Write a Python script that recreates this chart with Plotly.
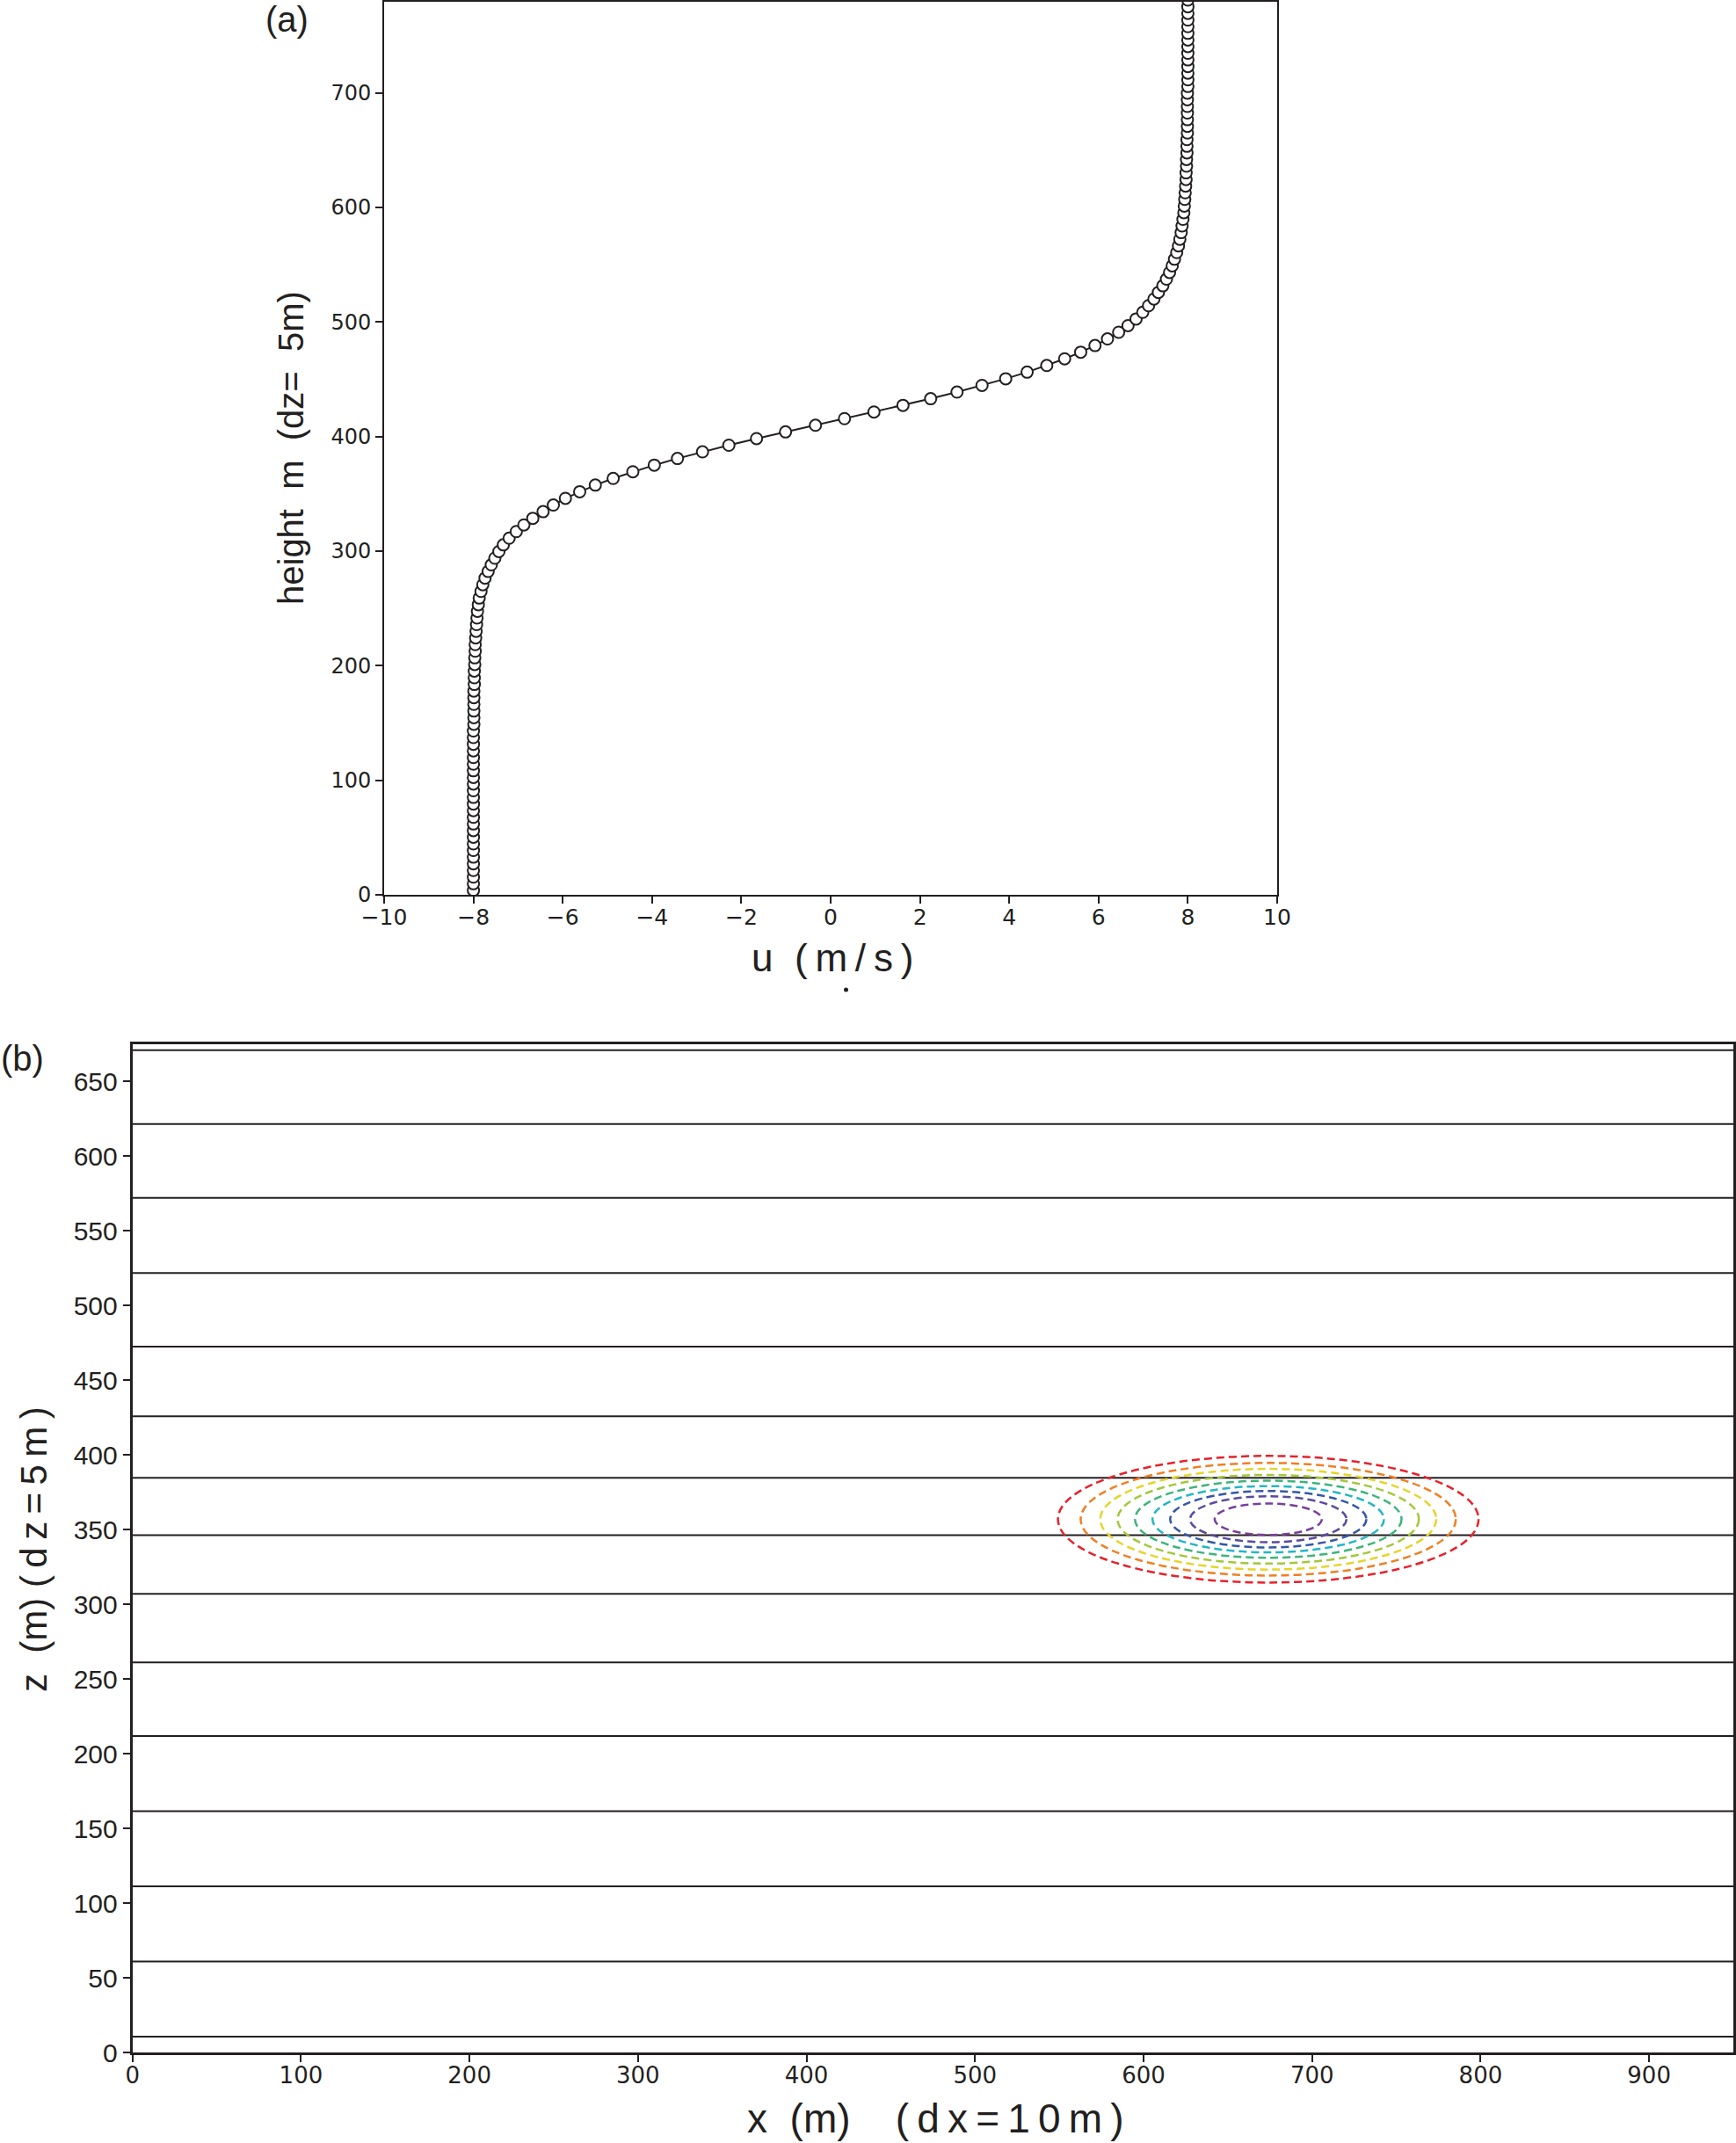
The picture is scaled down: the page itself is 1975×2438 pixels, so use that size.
import plotly.graph_objects as go

# ---------------- data: panel (a) ----------------
HEIGHT_START = 3.9      # m, lowest plotted level
HEIGHT_STEP = 5.8       # m, spacing of the plotted levels
U_WIND = [
    -8.00, -8.00, -8.00, -8.00, -8.00, -8.00, -8.00, -8.00, -8.00, -8.00,
    -8.00, -8.00, -8.00, -8.00, -8.00, -8.00, -8.00, -8.00, -8.00, -8.00,
    -8.00, -8.00, -8.00, -8.00, -8.00, -7.99, -7.99, -7.99, -7.99, -7.99,
    -7.99, -7.98, -7.98, -7.98, -7.97, -7.97, -7.96, -7.96, -7.95, -7.94,
    -7.93, -7.92, -7.91, -7.89, -7.87, -7.83, -7.79, -7.74, -7.67, -7.60,
    -7.52, -7.43, -7.33, -7.20, -7.04, -6.87, -6.67, -6.44, -6.21, -5.94,
    -5.62, -5.27, -4.87, -4.43, -3.95, -3.43, -2.87, -2.28, -1.66, -1.01,
    -0.34, 0.31, 0.97, 1.62, 2.24, 2.83, 3.39, 3.92, 4.40, 4.84,
    5.24, 5.60, 5.92, 6.20, 6.45, 6.66, 6.84, 6.99, 7.12, 7.24,
    7.34, 7.44, 7.52, 7.59, 7.65, 7.70, 7.75, 7.79, 7.82, 7.85,
    7.87, 7.89, 7.91, 7.92, 7.93, 7.94, 7.95, 7.96, 7.96, 7.97,
    7.97, 7.98, 7.98, 7.98, 7.99, 7.99, 7.99, 7.99, 7.99, 7.99,
    7.99, 8.00, 8.00, 8.00, 8.00, 8.00, 8.00, 8.00, 8.00, 8.00,
    8.00, 8.00, 8.00, 8.00, 8.00,
]
HEIGHTS = [HEIGHT_START + HEIGHT_STEP * i for i in range(len(U_WIND))]
U_TICKS = [-10, -8, -6, -4, -2, 0, 2, 4, 6, 8, 10]
H_TICKS = [0, 100, 200, 300, 400, 500, 600, 700]

# ---------------- data: panel (b) ----------------
STREAM_LEVELS = [10.6, 60.9, 111.2, 161.5, 211.8, 261.2, 307.0, 346.3,
                 384.7, 425.9, 472.5, 521.9, 572.2, 621.6, 671.0]
DOMAIN_X = [0, 950]
CONTOUR_CENTER_X = 674
CONTOUR_CENTER_Z = 357
CONTOUR_HALF_WIDTH = [124.8, 111.3, 99.7, 89.4, 79.1, 68.7, 58.2, 46.4, 31.8]
CONTOUR_HALF_HEIGHT = [42.4, 37.7, 33.7, 29.7, 25.8, 22.2, 18.9, 15.4, 10.5]
CONTOUR_COLORS = ["#e8212b", "#f07f23", "#e5d52b", "#a2c83b", "#3cb57b",
                  "#23b6c6", "#3557a8", "#5a4a9f", "#7a3f9a"]
X_TICKS = [0, 100, 200, 300, 400, 500, 600, 700, 800, 900]
Z_TICKS = list(range(0, 651, 50))

W, H = 1975, 2438
INK = "#231f20"
SANS = "Liberation Sans, Arial, sans-serif"
WIDE = "DejaVu Sans, Liberation Sans, sans-serif"
THIN = "\u2009"
NB = "\u00a0"


def spaced(s):
    """Letter-spaced text, mimicking the wide stroke font of the original."""
    return THIN.join(s)


fig = go.Figure()

# panel (a) profile
fig.add_trace(go.Scatter(
    x=U_WIND, y=HEIGHTS, mode="lines+markers",
    line=dict(color=INK, width=2),
    marker=dict(symbol="circle", size=13, color="white",
                line=dict(color=INK, width=2)),
    xaxis="x", yaxis="y", showlegend=False, hoverinfo="skip",
    cliponaxis=True,
))

# panel (b) streamlines
sx, sy = [], []
for lvl in STREAM_LEVELS:
    sx += [DOMAIN_X[0], DOMAIN_X[1], None]
    sy += [lvl, lvl, None]
fig.add_trace(go.Scatter(
    x=sx, y=sy, mode="lines", line=dict(color=INK, width=2),
    xaxis="x2", yaxis="y2", showlegend=False, hoverinfo="skip",
))

shapes = []
for hw, hh, col in zip(CONTOUR_HALF_WIDTH, CONTOUR_HALF_HEIGHT, CONTOUR_COLORS):
    shapes.append(dict(
        type="circle", xref="x2", yref="y2",
        x0=CONTOUR_CENTER_X - hw, x1=CONTOUR_CENTER_X + hw,
        y0=CONTOUR_CENTER_Z - hh, y1=CONTOUR_CENTER_Z + hh,
        line=dict(color=col, width=2.5, dash="9px,5px"),
    ))
# stray dot under the (a) axis title
shapes.append(dict(type="circle", xref="paper", yref="paper",
                   x0=960 / W, x1=965 / W, y0=1 - 1128.5 / H, y1=1 - 1123.5 / H,
                   fillcolor=INK, line=dict(width=0)))


def px_x(v):
    return v / W


def px_y(v):
    return 1 - v / H


axis_common = dict(showgrid=False, zeroline=False, showline=True, mirror=True,
                   linecolor=INK, ticks="outside", tickcolor=INK, ticklen=8,
                   tickwidth=2, automargin=False, fixedrange=True)


def label(text, x, y, size, family=SANS, angle=0):
    return dict(text=text, x=px_x(x), y=px_y(y), xref="paper", yref="paper",
                xanchor="center", yanchor="middle", showarrow=False,
                textangle=angle, font=dict(family=family, size=size, color=INK))


fig.update_layout(
    template="none",
    width=W, height=H, margin=dict(l=0, r=0, t=0, b=0, pad=0),
    paper_bgcolor="white", plot_bgcolor="white", showlegend=False,
    xaxis=dict(domain=[px_x(437), px_x(1453)], range=[-10, 10],
               tickvals=U_TICKS, linewidth=2, ticklabelstandoff=-6,
               tickfont=dict(family=WIDE, size=25, color=INK),
               anchor="y", **axis_common),
    yaxis=dict(domain=[px_y(1018), px_y(1.5)], range=[0, 780],
               tickvals=H_TICKS, linewidth=2,
               tickfont=dict(family=WIDE, size=24, color=INK),
               anchor="x", **axis_common),
    xaxis2=dict(domain=[px_x(150.7), px_x(1972)], range=[0, 950],
                tickvals=X_TICKS, linewidth=3, ticklabelstandoff=-7,
                tickfont=dict(family=WIDE, size=26, color=INK),
                anchor="y2", **axis_common),
    yaxis2=dict(domain=[px_y(2335), px_y(1188)], range=[0, 675],
                tickvals=Z_TICKS, linewidth=3,
                tickfont=dict(family=SANS, size=30, color=INK),
                anchor="x2", **axis_common),
    shapes=shapes,
    annotations=[
        label("(a)", 326, 22, 40),
        label("(b)", 25, 1204, 40),
        label("u" + NB * 2 + spaced("(m/s)"), 947, 1090, 44),
        label("height" + NB * 2 + "m" + NB * 2 + "(dz=" + NB * 2 + "5m)", 331, 510, 40,
              angle=-90),
        label("x" + NB * 2 + "(m)" + NB * 4 + spaced("(dx=10m)"), 1064, 2410, 46),
        label("z" + NB * 2 + "(m)" + NB + spaced("(dz=5m)"), 39, 1763, 42,
              angle=-90),
    ],
)

fig.write_html(
    "out.html",
    config={"displayModeBar": False, "staticPlot": True},
    post_script="document.body.style.margin='0';document.body.style.padding='0';",
)
